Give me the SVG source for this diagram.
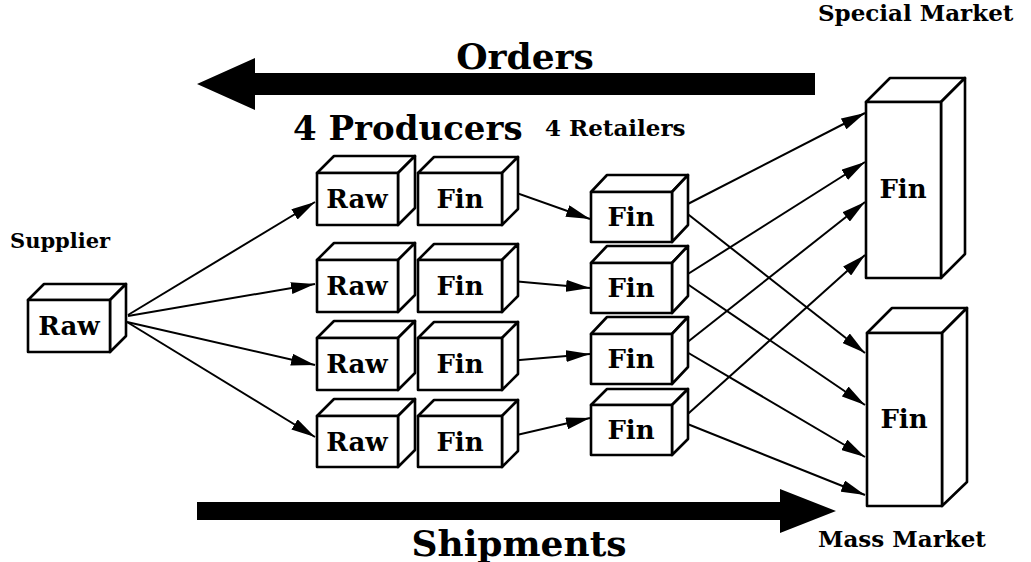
<svg xmlns="http://www.w3.org/2000/svg" width="1031" height="562" viewBox="0 0 1031 562">
  <style>
    .face { fill: #ffffff; stroke: #000000; stroke-width: 2.6; stroke-linejoin: round; }
    .lbl { font-family: "DejaVu Serif", "Liberation Serif", serif; font-weight: bold; fill: #000000; }
    .box-text { font-size: 26px; text-anchor: middle; }
    .title { font-size: 23px; }
    .big { font-size: 36px; }
    .link { stroke: #000000; stroke-width: 2; fill: none; marker-end: url(#head); }
  </style>
  <defs>
    <marker id="head" viewBox="0 0 24 12" refX="24" refY="6" markerWidth="24" markerHeight="12" markerUnits="userSpaceOnUse" orient="auto">
      <path d="M0,0 L24,6 L0,12 Z" fill="#000000"/>
    </marker>
  </defs>
  <rect width="1031" height="562" fill="#ffffff"/>

  <!-- flow arrows -->
  <g id="orders-arrow">
    <polygon points="815,73 255,73 255,58 197,84 255,110 255,95 815,95" fill="#000000"/>
    <text class="lbl big" x="525" y="69" text-anchor="middle">Orders</text>
  </g>
  <g id="shipments-arrow">
    <polygon points="197,502 780,502 780,489 836,511 780,533 780,520 197,520" fill="#000000"/>
    <text class="lbl big" x="519" y="556" text-anchor="middle">Shipments</text>
  </g>

  <!-- headings -->
  <text class="lbl" x="10" y="248" font-size="21">Supplier</text>
  <text class="lbl" x="293" y="140" font-size="34">4 Producers</text>
  <text class="lbl title" x="545" y="136">4 Retailers</text>
  <text class="lbl title" x="818" y="21">Special Market</text>
  <text class="lbl title" x="818" y="547">Mass Market</text>

  <!-- connectors -->
  <g id="connectors">
    <line class="link" x1="128" y1="315" x2="315" y2="202"/>
    <line class="link" x1="128" y1="316" x2="315" y2="284"/>
    <line class="link" x1="127" y1="322" x2="315" y2="365"/>
    <line class="link" x1="127" y1="322" x2="315" y2="437"/>

    <line class="link" x1="508" y1="190" x2="590" y2="219"/>
    <line class="link" x1="512" y1="281" x2="590" y2="288"/>
    <line class="link" x1="508" y1="361" x2="590" y2="354"/>
    <line class="link" x1="508" y1="437" x2="590" y2="418"/>

    <line class="link" x1="680" y1="208" x2="865" y2="113"/>
    <line class="link" x1="680" y1="279" x2="865" y2="162"/>
    <line class="link" x1="680" y1="348" x2="865" y2="202"/>
    <line class="link" x1="680" y1="421" x2="865" y2="255"/>

    <line class="link" x1="680" y1="208" x2="865" y2="353"/>
    <line class="link" x1="680" y1="279" x2="865" y2="405"/>
    <line class="link" x1="680" y1="348" x2="865" y2="457"/>
    <line class="link" x1="680" y1="421" x2="865" y2="495"/>
  </g>

  <!-- supplier -->
  <g id="supplier-raw">
    <polygon class="face" points="28,300 44,284 126,284 110,300"/>
    <polygon class="face" points="110,300 126,284 126,336 110,352"/>
    <rect class="face" x="28" y="300" width="82" height="52"/>
    <text class="lbl box-text" x="69" y="335">Raw</text>
  </g>

  <!-- producers -->
  <g id="producer-1-raw">
    <polygon class="face" points="317,173 334,156 415,156 398,173"/>
    <polygon class="face" points="398,173 415,156 415,208 398,225"/>
    <rect class="face" x="317" y="173" width="81" height="52"/>
    <text class="lbl box-text" x="357" y="208">Raw</text>
  </g>
  <g id="producer-1-fin">
    <polygon class="face" points="418,173 434,157 518,157 502,173"/>
    <polygon class="face" points="502,173 518,157 518,209 502,225"/>
    <rect class="face" x="418" y="173" width="84" height="52"/>
    <text class="lbl box-text" x="460" y="208">Fin</text>
  </g>
  <g id="producer-2-raw">
    <polygon class="face" points="317,260 334,243 415,243 398,260"/>
    <polygon class="face" points="398,260 415,243 415,295 398,312"/>
    <rect class="face" x="317" y="260" width="81" height="52"/>
    <text class="lbl box-text" x="357" y="295">Raw</text>
  </g>
  <g id="producer-2-fin">
    <polygon class="face" points="418,260 434,244 518,244 502,260"/>
    <polygon class="face" points="502,260 518,244 518,296 502,312"/>
    <rect class="face" x="418" y="260" width="84" height="52"/>
    <text class="lbl box-text" x="460" y="295">Fin</text>
  </g>
  <g id="producer-3-raw">
    <polygon class="face" points="317,338 334,321 415,321 398,338"/>
    <polygon class="face" points="398,338 415,321 415,373 398,390"/>
    <rect class="face" x="317" y="338" width="81" height="52"/>
    <text class="lbl box-text" x="357" y="373">Raw</text>
  </g>
  <g id="producer-3-fin">
    <polygon class="face" points="418,338 434,322 518,322 502,338"/>
    <polygon class="face" points="502,338 518,322 518,374 502,390"/>
    <rect class="face" x="418" y="338" width="84" height="52"/>
    <text class="lbl box-text" x="460" y="373">Fin</text>
  </g>
  <g id="producer-4-raw">
    <polygon class="face" points="317,416 334,399 415,399 398,416"/>
    <polygon class="face" points="398,416 415,399 415,450 398,467"/>
    <rect class="face" x="317" y="416" width="81" height="51"/>
    <text class="lbl box-text" x="357" y="451">Raw</text>
  </g>
  <g id="producer-4-fin">
    <polygon class="face" points="418,416 434,400 518,400 502,416"/>
    <polygon class="face" points="502,416 518,400 518,451 502,467"/>
    <rect class="face" x="418" y="416" width="84" height="51"/>
    <text class="lbl box-text" x="460" y="451">Fin</text>
  </g>

  <!-- retailers -->
  <g id="retailer-1">
    <polygon class="face" points="591,192 607,175 688,175 672,192"/>
    <polygon class="face" points="672,192 688,175 688,225 672,242"/>
    <rect class="face" x="591" y="192" width="81" height="50"/>
    <text class="lbl box-text" x="631" y="226">Fin</text>
  </g>
  <g id="retailer-2">
    <polygon class="face" points="591,263 607,246 688,246 672,263"/>
    <polygon class="face" points="672,263 688,246 688,296 672,313"/>
    <rect class="face" x="591" y="263" width="81" height="50"/>
    <text class="lbl box-text" x="631" y="297">Fin</text>
  </g>
  <g id="retailer-3">
    <polygon class="face" points="591,334 607,317 688,317 672,334"/>
    <polygon class="face" points="672,334 688,317 688,367 672,384"/>
    <rect class="face" x="591" y="334" width="81" height="50"/>
    <text class="lbl box-text" x="631" y="368">Fin</text>
  </g>
  <g id="retailer-4">
    <polygon class="face" points="591,405 607,389 688,389 672,405"/>
    <polygon class="face" points="672,405 688,389 688,439 672,455"/>
    <rect class="face" x="591" y="405" width="81" height="50"/>
    <text class="lbl box-text" x="631" y="439">Fin</text>
  </g>

  <!-- markets -->
  <g id="special-market">
    <polygon class="face" points="866,102 890,78 965,78 941,102"/>
    <polygon class="face" points="941,102 965,78 965,254 941,278"/>
    <rect class="face" x="866" y="102" width="75" height="176"/>
    <text class="lbl box-text" x="903" y="198">Fin</text>
  </g>
  <g id="mass-market">
    <polygon class="face" points="867,333 892,308 967,308 942,333"/>
    <polygon class="face" points="942,333 967,308 967,482 942,506"/>
    <rect class="face" x="867" y="333" width="75" height="173"/>
    <text class="lbl box-text" x="904" y="428">Fin</text>
  </g>
</svg>
